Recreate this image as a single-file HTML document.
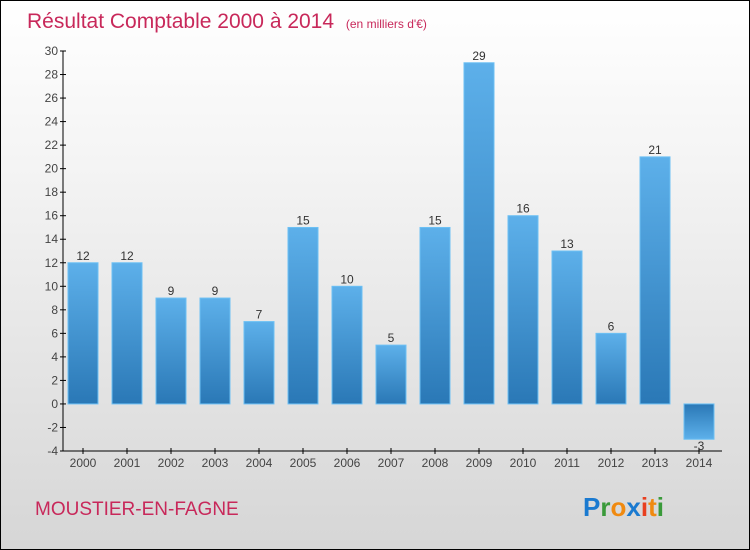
<!DOCTYPE html>
<html><head><meta charset="utf-8"><style>
body{margin:0}
#c{width:750px;height:550px;position:relative;box-sizing:border-box;border:1px solid #000;background:linear-gradient(#ffffff,#f4f4f4 30%,#d6d6d6);font-family:"Liberation Sans",sans-serif}
</style></head><body>
<div id="c">
<svg id="s" width="748" height="548" style="position:absolute;left:0;top:0">
<defs>
<linearGradient id="gp" x1="0" y1="0" x2="0" y2="1"><stop offset="0" stop-color="#5db0ea"/><stop offset="1" stop-color="#2a78b6"/></linearGradient>
<linearGradient id="gn" x1="0" y1="0" x2="0" y2="1"><stop offset="0" stop-color="#2a78b6"/><stop offset="1" stop-color="#5db0ea"/></linearGradient>
</defs>
<text x="26" y="27" font-size="21" fill="#c8285a">Résultat Comptable 2000 à 2014 <tspan font-size="12" dx="6">(en milliers d'€)</tspan></text>
<text x="34" y="514" font-size="19" fill="#c8285a">MOUSTIER-EN-FAGNE</text>
<text x="582" y="515" font-size="26" font-weight="bold"><tspan fill="#1a7ad0">P</tspan><tspan fill="#3a9a3a">r</tspan><tspan fill="#f08a10">o</tspan><tspan fill="#1a7ad0">x</tspan><tspan fill="#e84020">i</tspan><tspan fill="#f08a10">t</tspan><tspan fill="#3a9a3a">i</tspan></text>
<g id="g"></g>
</svg>
</div>
<script>
const categories=["2000","2001","2002","2003","2004","2005","2006","2007","2008","2009","2010","2011","2012","2013","2014"];
const values=[12,12,9,9,7,15,10,5,15,29,16,13,6,21,-3];
const yTicks=[-4,-2,0,2,4,6,8,10,12,14,16,18,20,22,24,26,28,30];
const ns="http://www.w3.org/2000/svg";
const g=document.getElementById('g');
const y=v=>450-(v+4)*400/34;
const x=i=>82+i*44;
function el(t,a,txt){const e=document.createElementNS(ns,t);for(const k in a)e.setAttribute(k,a[k]);if(txt!==undefined)e.textContent=txt;g.appendChild(e);return e;}
let e=el('line',{x1:62,y1:50,x2:62,y2:450,stroke:'#000'});


e=el('line',{x1:62,y1:450,x2:721,y2:450,stroke:'#000'});


yTicks.forEach(t=>{
 el('line',{x1:59,y1:y(t),x2:65,y2:y(t),stroke:'#000'});
 e=el('text',{x:57,y:y(t)+4,'font-size':12,fill:'#444','text-anchor':'end'},t);
 
 
});
categories.forEach((c,i)=>{
 const v=values[i];
 el('line',{x1:x(i),y1:447,x2:x(i),y2:453,stroke:'#000'});
 e=el('text',{x:x(i),y:466,'font-size':12,fill:'#444','text-anchor':'middle'},c);
 
 
 const top=Math.min(y(v),y(0)),h=Math.abs(y(v)-y(0));
 e=el('rect',{x:x(i)-15,y:top,width:30,height:h,fill:v>=0?'url(#gp)':'url(#gn)',stroke:'#6cc0f4','stroke-width':1});
 
 
 e=el('text',{x:x(i),y:v>=0?y(v)-3:y(v)+11,'font-size':12,fill:'#333','text-anchor':'middle'},v);
 
 
});
</script>
</body></html>
